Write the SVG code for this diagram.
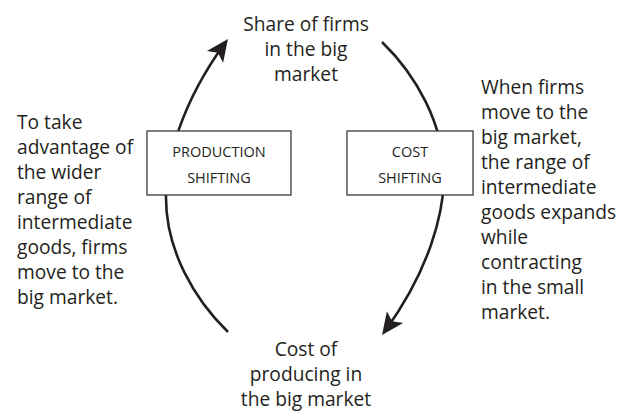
<svg xmlns="http://www.w3.org/2000/svg" width="626" height="411" viewBox="0 0 626 411">
  <style>
    .lbl { font-family: "Open Sans", "Liberation Sans", sans-serif; font-size: 19.2px; fill: #231f20; }
    .mid { text-anchor: middle; }
    .box { fill: #ffffff; stroke: #3a3a3a; stroke-width: 1.3; }
    .boxtxt { font-family: "Open Sans", "Liberation Sans", sans-serif; font-size: 14.5px; fill: #231f20; text-anchor: middle; }
    .arc { fill: none; stroke: #231f20; stroke-width: 2.6; }
  </style>
  <defs>
    <marker id="arrow" markerUnits="userSpaceOnUse" viewBox="-24 -12 30 24" refX="0" refY="0" markerWidth="30" markerHeight="24" orient="auto">
      <path d="M5,0 L-17,-10 L-12,0 L-17,10 Z" fill="#231f20"/>
    </marker>
  </defs>

  <g id="connectors">
    <path class="arc" d="M228,332 C195,300 165,250 166,195 C167,160 180,105 225,43" marker-end="url(#arrow)"/>
    <path class="arc" d="M382,42 C415,74 445,124 444,179 C443,214 430,269 385,331" marker-end="url(#arrow)"/>
  </g>

  <g id="share">
    <text class="lbl mid" x="306" y="31">Share of firms</text>
    <text class="lbl mid" x="306" y="56">in the big</text>
    <text class="lbl mid" x="306" y="81">market</text>
  </g>

  <g id="cost">
    <text class="lbl mid" x="306" y="356">Cost of</text>
    <text class="lbl mid" x="306" y="381">producing in</text>
    <text class="lbl mid" x="306" y="406">the big market</text>
  </g>

  <g id="production-shifting">
    <rect class="box" x="147" y="131" width="144" height="64"/>
    <text class="boxtxt" x="219" y="157">PRODUCTION</text>
    <text class="boxtxt" x="219" y="183">SHIFTING</text>
  </g>

  <g id="cost-shifting">
    <rect class="box" x="347" y="131" width="126" height="64"/>
    <text class="boxtxt" x="410" y="157">COST</text>
    <text class="boxtxt" x="410" y="183">SHIFTING</text>
  </g>

  <g id="left-note">
    <text class="lbl" x="17" y="129">To take</text>
    <text class="lbl" x="17" y="154">advantage of</text>
    <text class="lbl" x="17" y="179">the wider</text>
    <text class="lbl" x="17" y="204">range of</text>
    <text class="lbl" x="17" y="229">intermediate</text>
    <text class="lbl" x="17" y="254">goods, firms</text>
    <text class="lbl" x="17" y="279">move to the</text>
    <text class="lbl" x="17" y="304">big market.</text>
  </g>

  <g id="right-note">
    <text class="lbl" x="481" y="94">When firms</text>
    <text class="lbl" x="481" y="119">move to the</text>
    <text class="lbl" x="481" y="144">big market,</text>
    <text class="lbl" x="481" y="169">the range of</text>
    <text class="lbl" x="481" y="194">intermediate</text>
    <text class="lbl" x="481" y="219">goods expands</text>
    <text class="lbl" x="481" y="244">while</text>
    <text class="lbl" x="481" y="269">contracting</text>
    <text class="lbl" x="481" y="294">in the small</text>
    <text class="lbl" x="481" y="319">market.</text>
  </g>
</svg>
